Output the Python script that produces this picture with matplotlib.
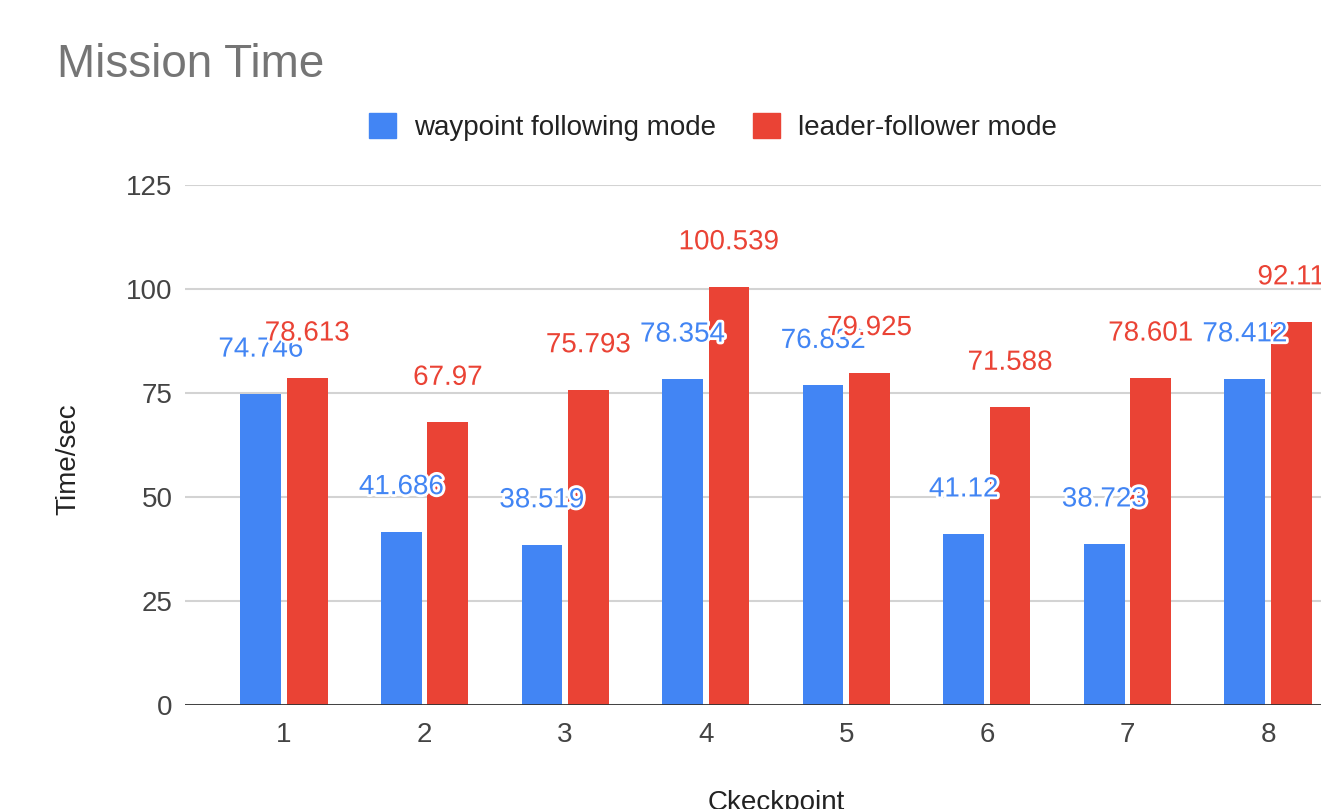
import matplotlib
matplotlib.use("Agg")
import matplotlib.pyplot as plt
import matplotlib.patheffects as pe
from matplotlib.patches import Patch
import numpy as np

plt.rcParams['font.family'] = ['Liberation Sans', 'DejaVu Sans']

checkpoints = ['1', '2', '3', '4', '5', '6', '7', '8']
waypoint = [74.746, 41.686, 38.519, 78.354, 76.832, 41.12, 38.723, 78.412]
leader = [78.613, 67.97, 75.793, 100.539, 79.925, 71.588, 78.601, 92.11]
waypoint_lbl = ['74.746', '41.686', '38.519', '78.354', '76.832', '41.12', '38.723', '78.412']
leader_lbl = ['78.613', '67.97', '75.793', '100.539', '79.925', '71.588', '78.601', '92.11']

blue = '#4285F4'
red = '#EA4335'
fs = 20

fig = plt.figure(figsize=(13.21, 8.09), dpi=100)
# the original chart is cut on the right, so the axes run past the figure edge
ax = fig.add_axes([185 / 1321, 1 - 705 / 809, 1182 / 1321, 520 / 809])

x = np.arange(1, len(checkpoints) + 1)
w = 0.29
off = 0.165
ax.bar(x - off, waypoint, w, color=blue, zorder=2)
ax.bar(x + off, leader, w, color=red, zorder=2)

halo = [pe.withStroke(linewidth=4, foreground='white')]
for xi, v, s in zip(x, waypoint, waypoint_lbl):
    ax.annotate(s, (xi - off, v), xytext=(0, 32), textcoords='offset points',
                ha='center', va='center', fontsize=fs, color=blue,
                path_effects=halo, zorder=3)
for xi, v, s in zip(x, leader, leader_lbl):
    ax.annotate(s, (xi + off, v), xytext=(0, 32), textcoords='offset points',
                ha='center', va='center', fontsize=fs, color=red,
                path_effects=halo, zorder=4)

ax.set_xlim(0.296, 8.704)
ax.set_ylim(0, 125)
ax.set_yticks([0, 25, 50, 75, 100, 125])
ax.set_xticks(x)
ax.set_xticklabels(checkpoints)
ax.tick_params(length=0, labelsize=fs, labelcolor='#444444')
ax.tick_params(axis='y', pad=9)
ax.tick_params(axis='x', pad=12)
ax.grid(axis='y', color='#d3d3d3', linewidth=1.5, zorder=0)
ax.set_axisbelow(True)
for sp in ax.spines.values():
    sp.set_visible(False)
ax.axhline(0, color='#333333', linewidth=2, zorder=5)

ax.set_ylabel('Time/sec', fontsize=fs, color='#222222', va='center')
ax.yaxis.set_label_coords(-0.099, 0.473)
ax.set_xlabel('Ckeckpoint', fontsize=fs, color='#222222', va='top')
ax.xaxis.set_label_coords(0.5, -0.163)

fig.text(57 / 1321, 1 - 77 / 809, 'Mission Time', fontsize=33,
         color='#757575', va='baseline', ha='left')

handles = [Patch(color=blue, label='waypoint following mode'),
           Patch(color=red, label='leader-follower mode')]
fig.legend(handles=handles, loc='center', bbox_to_anchor=(713 / 1321, 1 - 127 / 809),
           ncol=2, frameon=False, fontsize=fs, handlelength=1.0, handleheight=1.0,
           handletextpad=0.65, columnspacing=1.3, labelcolor='#222222')

fig.savefig('out.png', dpi=100)
